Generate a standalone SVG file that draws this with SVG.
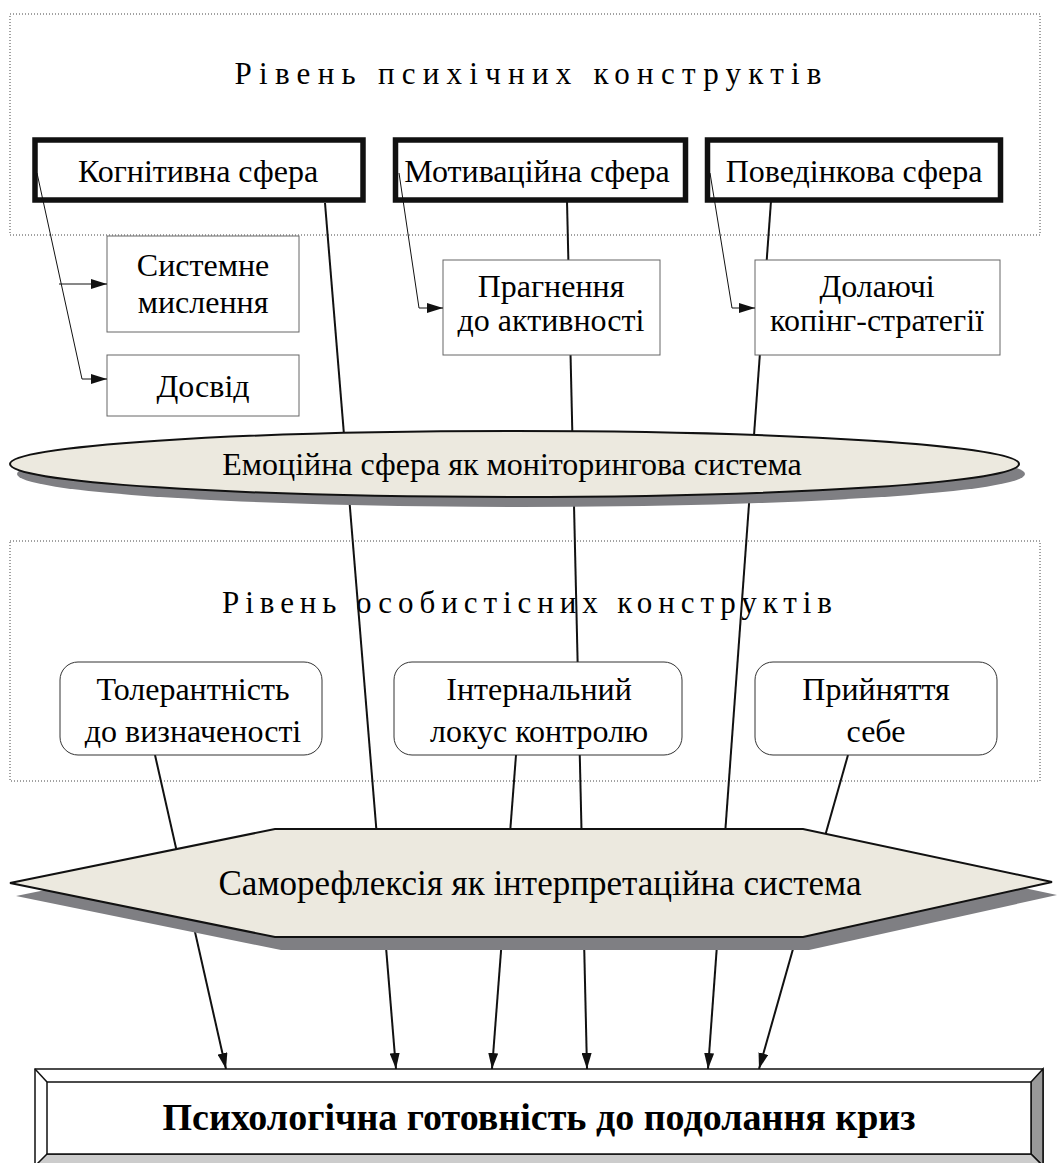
<svg xmlns="http://www.w3.org/2000/svg" width="1057" height="1163" viewBox="0 0 1057 1163">
<style>
text{font-family:"Liberation Serif","Times New Roman",serif;fill:#000;text-anchor:middle}
.t{font-size:32px}
.ttl{font-size:31px}
.dot{fill:none;stroke:#444;stroke-width:1;stroke-dasharray:1 2}
.thick{fill:#fff;stroke:#111;stroke-width:5.5}
.sq{fill:#fff;stroke:#666;stroke-width:1}
.rnd{fill:#fff;stroke:#333;stroke-width:1}
.ln{fill:none;stroke:#111;stroke-width:2}
.thin{fill:none;stroke:#111;stroke-width:1}
.sh{fill:#7f7f83}
.beige{fill:#ece9df;stroke:#111;stroke-width:2}
</style>
<defs>
<marker id="ah" viewBox="0 0 16 10" refX="16" refY="5" markerWidth="16" markerHeight="10" markerUnits="userSpaceOnUse" orient="auto">
<path d="M0,0 L16,5 L0,10 Z" fill="#111"/>
</marker>
</defs>

<g id="level1">
<rect class="dot" x="10" y="14" width="1030" height="221"/>
<text class="ttl" x="528" y="84" textLength="587" lengthAdjust="spacing">Рівень психічних конструктів</text>
</g>
<g id="level2">
<rect class="dot" x="10" y="541" width="1030" height="240"/>
<text class="ttl" x="527" y="613" textLength="610" lengthAdjust="spacing">Рівень особистісних конструктів</text>
</g>

<g id="connectors">
<line class="ln" x1="155" y1="755" x2="226" y2="1069" marker-end="url(#ah)"/>
<line class="ln" x1="325" y1="203" x2="396" y2="1069" marker-end="url(#ah)"/>
<line class="ln" x1="516" y1="755" x2="492" y2="1069" marker-end="url(#ah)"/>
<line class="ln" x1="567" y1="201" x2="587" y2="1069" marker-end="url(#ah)"/>
<line class="ln" x1="771" y1="201" x2="708" y2="1069" marker-end="url(#ah)"/>
<line class="ln" x1="848" y1="755" x2="759" y2="1069" marker-end="url(#ah)"/>
</g>

<g id="emotion">
<ellipse class="sh" cx="521" cy="474" rx="504" ry="33"/>
<ellipse class="beige" cx="514.5" cy="464" rx="504.5" ry="33"/>
<text class="t" x="512" y="475">Емоційна сфера як моніторингова система</text>
</g>

<g id="selfreflection">
<polygon class="sh" points="16,896 281,842 809,842 1057,895 809,950 281,950"/>
<polygon class="beige" points="10,883 275,829 803,829 1052,882 803,937 275,937"/>
<text x="540" y="895" style="font-size:35px">Саморефлексія як інтерпретаційна система</text>
</g>

<g id="cognitive">
<rect class="thick" x="35" y="140" width="328" height="60"/>
<text class="t" x="198" y="182">Когнітивна сфера</text>
</g>
<g id="motivational">
<rect class="thick" x="395.5" y="140" width="290" height="60"/>
<text class="t" x="537" y="182">Мотиваційна сфера</text>
</g>
<g id="behavioral">
<rect class="thick" x="707.5" y="140" width="293" height="60"/>
<text class="t" x="854" y="182">Поведінкова сфера</text>
</g>

<g id="systemthinking">
<rect class="sq" x="107" y="236" width="192" height="96"/>
<text class="t" x="203" y="276">Системне</text>
<text class="t" x="203" y="313">мислення</text>
</g>
<g id="experience">
<rect class="sq" x="107" y="355" width="192" height="61"/>
<text class="t" x="203" y="397">Досвід</text>
</g>
<g id="striving">
<rect class="sq" x="443" y="260" width="217" height="95"/>
<text class="t" x="551" y="297">Прагнення</text>
<text class="t" x="551" y="331">до активності</text>
</g>
<g id="coping">
<rect class="sq" x="755" y="260" width="245" height="95"/>
<text class="t" x="877" y="297">Долаючі</text>
<text class="t" x="877" y="331">копінг-стратегії</text>
</g>

<g id="tolerance">
<rect class="rnd" x="60" y="662" width="262" height="93" rx="18"/>
<text class="t" x="193" y="700">Толерантність</text>
<text class="t" x="193" y="742">до визначеності</text>
</g>
<g id="locus">
<rect class="rnd" x="394" y="662" width="288" height="93" rx="18"/>
<text class="t" x="539" y="700">Інтернальний</text>
<text class="t" x="539" y="742">локус контролю</text>
</g>
<g id="selfacceptance">
<rect class="rnd" x="755" y="662" width="242" height="93" rx="18"/>
<text class="t" x="876" y="700">Прийняття</text>
<text class="t" x="876" y="742">себе</text>
</g>

<g id="subconnectors">
<polyline class="thin" points="37,173 82,379 107,379" marker-end="url(#ah)"/>
<line class="thin" x1="59" y1="284" x2="107" y2="284" marker-end="url(#ah)"/>
<polyline class="thin" points="399,173 419,308 443,308" marker-end="url(#ah)"/>
<polyline class="thin" points="710,173 732,308 755,308" marker-end="url(#ah)"/>
</g>

<g id="readiness">
<rect x="35" y="1069" width="1008" height="97" fill="#fff" stroke="#111" stroke-width="1.5"/>
<polygon points="1031,1082 1043,1069 1043,1166 1031,1154" fill="#999" stroke="#111" stroke-width="1.5"/>
<polygon points="47,1154 1031,1154 1043,1166 35,1166" fill="#ccc" stroke="#111" stroke-width="1.5"/>
<line x1="35" y1="1069" x2="47" y2="1082" stroke="#111" stroke-width="1.5"/>
<rect x="47" y="1082" width="984" height="72" fill="#fff" stroke="#111" stroke-width="1.5"/>
<text x="539" y="1130" style="font-size:38px;font-weight:bold">Психологічна готовність до подолання криз</text>
</g>
</svg>
